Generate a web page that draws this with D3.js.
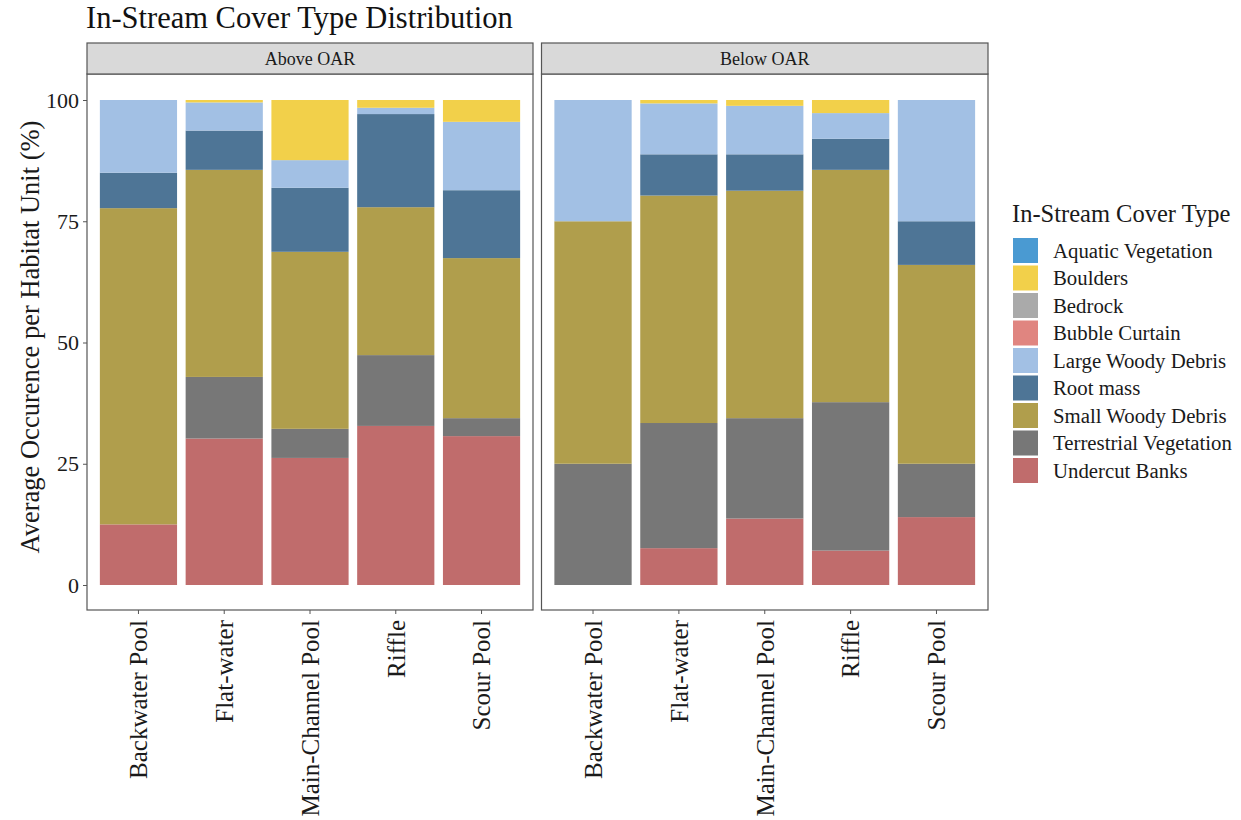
<!DOCTYPE html>
<html>
<head>
<meta charset="utf-8">
<script src="https://cdn.jsdelivr.net/npm/d3@7"></script>
<style>
  html, body { margin: 0; padding: 0; background: #fff; }
  svg { display: block; font-family: "Liberation Serif", "Times New Roman", serif; }
</style>
</head>
<body>
<svg id="chart" width="1241" height="820"></svg>
<script>
// Habitat units on the x axis
const habitats = ["Backwater Pool", "Flat-water", "Main-Channel Pool", "Riffle", "Scour Pool"];
// Facets
const reaches = ["Above OAR", "Below OAR"];
// Cover types, in legend order (first level sits on top of the stack)
const coverTypes = ["Aquatic Vegetation", "Boulders", "Bedrock", "Bubble Curtain",
  "Large Woody Debris", "Root mass", "Small Woody Debris", "Terrestrial Vegetation", "Undercut Banks"];
const coverColors = ["#4a9ad2", "#f2d04a", "#aaaaaa", "#e08580",
  "#a2c0e4", "#4e7596", "#b09e4c", "#777777", "#c06c6c"];
const yTicks = [0, 25, 50, 75, 100];

// Average occurrence (%) per habitat unit, one array per cover type and reach
// (habitat order as above)
const undercutAbove   = [12.5, 30.2, 26.2, 32.8, 30.7];
const undercutBelow   = [0.0, 7.6, 13.7, 7.1, 14.0];
const terrestAbove    = [0.0, 12.7, 6.0, 14.6, 3.7];
const terrestBelow    = [25.0, 25.8, 20.7, 30.6, 11.0];
const smallWoodyAbove = [65.2, 42.7, 36.5, 30.5, 33.0];
const smallWoodyBelow = [50.0, 46.9, 46.9, 47.9, 41.0];
const rootMassAbove   = [7.3, 8.1, 13.2, 19.2, 14.0];
const rootMassBelow   = [0.0, 8.5, 7.5, 6.4, 9.0];
const largeWoodyAbove = [15.0, 5.8, 5.7, 1.3, 14.1];
const largeWoodyBelow = [25.0, 10.5, 10.0, 5.3, 25.0];
const bouldersAbove   = [0.0, 0.5, 12.4, 1.6, 4.5];
const bouldersBelow   = [0.0, 0.7, 1.2, 2.7, 0.0];
const bubbleAbove     = [0, 0, 0, 0, 0];
const bubbleBelow     = [0, 0, 0, 0, 0];
const bedrockAbove    = [0, 0, 0, 0, 0];
const bedrockBelow    = [0, 0, 0, 0, 0];
const aquaticAbove    = [0, 0, 0, 0, 0];
const aquaticBelow    = [0, 0, 0, 0, 0];

const seriesByType = {
  "Aquatic Vegetation":     [aquaticAbove, aquaticBelow],
  "Boulders":               [bouldersAbove, bouldersBelow],
  "Bedrock":                [bedrockAbove, bedrockBelow],
  "Bubble Curtain":         [bubbleAbove, bubbleBelow],
  "Large Woody Debris":     [largeWoodyAbove, largeWoodyBelow],
  "Root mass":              [rootMassAbove, rootMassBelow],
  "Small Woody Debris":     [smallWoodyAbove, smallWoodyBelow],
  "Terrestrial Vegetation": [terrestAbove, terrestBelow],
  "Undercut Banks":         [undercutAbove, undercutBelow]
};

const svg = d3.select("#chart");
const color = d3.scaleOrdinal().domain(coverTypes).range(coverColors);

// Layout
const panelTop = 74, panelBottom = 610, stripTop = 43;
const panels = [{ x0: 87, x1: 533 }, { x0: 541.5, x1: 988 }];

// 0 sits at y=585, 100 at y=100
const y = d3.scaleLinear().domain([0, 100]).range([585, 100]);

// Stack order bottom → top is the reverse of the legend order
const stackKeys = coverTypes.slice().reverse();

// Title
svg.append("text")
  .attr("x", 86).attr("y", 28)
  .attr("font-size", 30.5).attr("fill", "#111")
  .text("In-Stream Cover Type Distribution");

reaches.forEach((reach, ri) => {
  const p = panels[ri];
  // 0.6 category units of expansion on each side, bars 0.9 units wide
  const unit = (p.x1 - p.x0) / (habitats.length - 1 + 1.2);
  const x = d3.scaleBand().domain(habitats)
    .range([p.x0 + 0.1 * unit, p.x1 - 0.1 * unit])
    .paddingInner(0.1).paddingOuter(0.05);

  const rows = habitats.map((h, i) => {
    const r = { habitat: h };
    coverTypes.forEach(t => { r[t] = seriesByType[t][ri][i]; });
    return r;
  });
  const stacked = d3.stack().keys(stackKeys)(rows);

  const g = svg.append("g");
  g.append("rect").attr("x", p.x0).attr("y", panelTop)
    .attr("width", p.x1 - p.x0).attr("height", panelBottom - panelTop)
    .attr("fill", "#fff");

  g.selectAll("g.layer").data(stacked).join("g")
    .attr("class", "layer")
    .attr("fill", d => color(d.key))
    .selectAll("rect").data(d => d).join("rect")
      .attr("x", d => x(d.data.habitat))
      .attr("width", x.bandwidth())
      .attr("y", d => y(d[1]))
      .attr("height", d => Math.max(0, y(d[0]) - y(d[1])));

  // panel border
  g.append("rect").attr("x", p.x0).attr("y", panelTop)
    .attr("width", p.x1 - p.x0).attr("height", panelBottom - panelTop)
    .attr("fill", "none").attr("stroke", "#555").attr("stroke-width", 1.2);

  // facet strip
  g.append("rect").attr("x", p.x0).attr("y", stripTop)
    .attr("width", p.x1 - p.x0).attr("height", panelTop - stripTop)
    .attr("fill", "#d9d9d9").attr("stroke", "#555").attr("stroke-width", 1.2);
  g.append("text")
    .attr("x", (p.x0 + p.x1) / 2).attr("y", (stripTop + panelTop) / 2)
    .attr("dy", "0.35em").attr("text-anchor", "middle")
    .attr("font-size", 18).attr("fill", "#1a1a1a")
    .text(reach);

  // x axis
  const xAxis = g.append("g")
    .attr("transform", `translate(0,${panelBottom})`)
    .call(d3.axisBottom(x).tickSize(4).tickPadding(6));
  xAxis.select(".domain").remove();
  xAxis.selectAll(".tick line").attr("stroke", "#555");
  xAxis.selectAll(".tick text")
    .attr("font-size", 25).attr("fill", "#1a1a1a")
    .attr("font-family", "Liberation Serif, serif")
    .attr("transform", "rotate(-90)")
    .attr("text-anchor", "end")
    .attr("x", -10).attr("y", 0).attr("dy", "0.35em");
});

// y axis on the left panel
const yAxis = svg.append("g")
  .attr("transform", `translate(${panels[0].x0},0)`)
  .call(d3.axisLeft(y).tickValues(yTicks).tickSize(4).tickPadding(4));
yAxis.select(".domain").remove();
yAxis.selectAll(".tick line").attr("stroke", "#555");
yAxis.selectAll(".tick text")
  .attr("font-size", 22).attr("fill", "#1a1a1a")
  .attr("font-family", "Liberation Serif, serif");

svg.append("text")
  .attr("transform", "translate(30,337) rotate(-90)")
  .attr("text-anchor", "middle").attr("dy", "0.35em")
  .attr("font-size", 26.5).attr("fill", "#1a1a1a")
  .text("Average Occurence per Habitat Unit (%)");

// Legend
const legend = svg.append("g").attr("transform", "translate(1013,0)");
legend.append("text")
  .attr("x", -1).attr("y", 222)
  .attr("font-size", 24.5).attr("fill", "#1a1a1a")
  .text("In-Stream Cover Type");
const item = legend.selectAll("g.item").data(coverTypes).join("g")
  .attr("class", "item")
  .attr("transform", (d, i) => `translate(0,${238 + i * 27.5})`);
item.append("rect").attr("width", 25).attr("height", 25)
  .attr("fill", d => color(d));
item.append("text")
  .attr("x", 40).attr("y", 12.5).attr("dy", "0.35em")
  .attr("font-size", 20.8).attr("fill", "#1a1a1a")
  .text(d => d);
</script>
</body>
</html>
